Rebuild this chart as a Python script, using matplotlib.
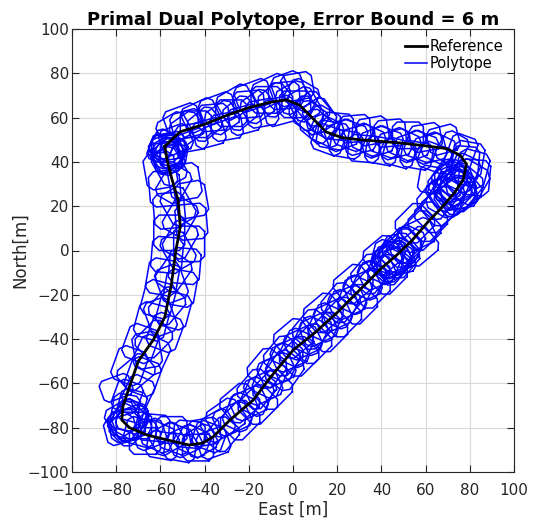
import numpy as np
import matplotlib
matplotlib.use('Agg')
import matplotlib.pyplot as plt

# Reference trajectory (East, North) in metres
ref_east = [-58, -56, -51, -40, -30, -20, -10, -3, 3, 8.6, 15, 22, 30, 38, 48, 58,
            69.5, 75.6, 78.5, 77, 73, 67, 62, 54, 47, 40, 30, 20, 10, 0, -10, -18,
            -28.5, -36, -41, -47, -57, -66, -74, -77.5, -77, -74, -70, -63, -58,
            -55, -53, -51, -52, -55, -57, -58]
ref_north = [47, 49, 53.6, 57, 61, 64.5, 67, 68, 65.6, 60, 53.5, 51, 50, 49.4, 48.6,
             47.5, 46, 43, 39, 32, 26, 19, 14, 4.7, -2, -8, -18, -28, -37, -45, -57,
             -67.5, -76.5, -84, -87, -87.8, -85.5, -83.3, -80, -76.5, -70.5, -61.5,
             -50, -40, -30, -15, 0, 10.7, 22.8, 33, 41, 47]

# Polytopes, grouped by stretch of track: centre, half length, half width, heading
top_cx = [-50, -46, -42, -38, -34, -30, -26, -22, -18, -14, -10, -6, -2, 1, -54, -48,
          4, 6, 9, 11, 14, 16,
          -48, -44, -40, -36, -32, -28, -24, -20, -16, -12, -8, -4, 0, 2,
          5, 8, 12, 15, 18]
top_cy = [59, 51, 61, 53, 64, 56, 67, 59, 70, 62, 72, 63, 73, 66, 55, 57,
          70, 62, 64, 56, 58, 50,
          55, 57, 57, 60, 60, 62, 62, 66, 65, 68, 68, 70, 69, 74,
          66, 60, 61, 54, 52]
top_a = [8, 7, 8, 7, 8, 7, 8, 7, 8, 7, 8, 7, 7, 7, 7, 7, 7, 7, 7, 7, 7, 7] + [7] * 19
top_b = [6, 6, 6, 6, 6, 6, 6, 6, 6, 6, 6, 6, 7, 6, 6, 6, 6, 6, 6, 6, 6, 6] + [6] * 19
top_deg = [20, 10, 25, 15, 20, 10, 30, 15, 20, 10, 25, 15, 20, 0, 30, 15,
           -30, -45, -50, -40, -30, -20,
           35, 0, 40, 5, 35, 0, 40, 5, 35, 0, 40, 5, 30, 10,
           -60, -35, -55, -25, -10]

ne_cx = [20, 24, 28, 32, 36, 40, 44, 48, 52, 56, 60, 64, 68,
         22, 26, 30, 34, 38, 42, 46, 50, 54, 58, 62, 66]
ne_cy = [56, 48, 55, 46, 54, 45, 53, 44, 52, 43, 51, 42, 50,
         52, 52, 50, 50, 49, 49, 48, 48, 47, 47, 46, 46]
ne_a = [7] * 25
ne_b = [6] * 25
ne_deg = [-5, -10, 5, -5, 10, -10, 5, -15, 0, -10, 10, -20, 15,
          20, -20, 15, -25, 20, -20, 15, -25, 20, -20, 15, -25]

east_cx = [72, 76, 79, 81, 82, 79, 76, 73, 71, 74, 70, 73, 69, 76, 67, 64, 61, 58, 62,
           74, 72, 75, 71, 77, 73, 78, 68, 65]
east_cy = [46, 44, 41, 37, 33, 31, 29, 28, 27, 25, 31, 32, 24, 27, 20, 17, 13, 9, 32,
           30, 29, 26, 33, 35, 24, 39, 27, 23]
east_a = [7, 8, 8, 8, 8, 9, 9, 8, 9, 8, 8, 7, 8, 8, 8, 8, 8, 8, 6,
          8, 8, 8, 7, 8, 8, 8, 7, 8]
east_b = [6, 6, 7, 7, 7, 8, 8, 8, 7, 7, 7, 8, 7, 8, 7, 7, 7, 7, 5,
          7, 7, 7, 7, 6, 7, 6, 6, 7]
east_deg = [60, 70, 80, 75, 85, 60, 50, 45, 30, 40, 50, 45, 60, 40, 40, 45, 45, 44, 80,
            20, 70, 10, 55, 65, 35, 85, 35, 50]

diag_cx = [55.2, 56.8, 49.3, 48.4, 40.7, 42.8, 35.1, 35.1, 27.2, 29.3, 21.6, 22.1, 13.7,
           15.8, 8.6, 8.6, 0.2, 2.8, -4.4, -3.9, -11.8, -9.2, -16.4, -15.9, -24.1,
           -23.9, -30.4, 45, 46, 44, 47, 43, 48, 45, 50,
           56, 52, 45, 41.5, 38, 34.5, 31.5, 28, 24.5, 21.5, 18, 14.5, 11.5, 8, 4.5,
           1.5, -1.5, -4.5, -7.5, -10.5, -13.5, -16.5, -20, -24, -27.5]
diag_cy = [12.3, 1.9, 1.4, -3.4, -2.2, -10.8, -10.6, -17.1, -15.2, -24.3, -23.6, -30.1,
           -28.2, -36.8, -35.6, -42.1, -39.7, -47.8, -47.6, -54.1, -53.2, -62.8, -62.6,
           -69.6, -68.9, -76.6, -75.6, -4, -2, -6, -5, -3, -1, -7, 2,
           7, 2.5, -3.5, -6.5, -10, -13.5, -16.5, -20, -23.5, -26.5, -29.5, -32.5,
           -35.5, -38.5, -41.5, -44, -47, -50.5, -54, -58, -62, -66, -69, -73, -76]
diag_a = [8] * 27 + [8, 8, 7, 8, 7, 8, 8, 7] + [8] * 25
diag_b = [7] * 27 + [7, 7, 7, 6, 7, 7, 6, 6] + [6] * 25
diag_deg = [45, 40, 45, 50, 40, 45, 50, 45, 40, 45, 50, 45, 40, 45, 50, 45, 40, 45,
            50, 55, 50, 45, 50, 45, 40, 45, 35, 30, 60, 45, 15, 75, 40, 50, 45,
            25, 65, 25, 65, 25, 65, 25, 65, 25, 65, 25, 65, 25, 65, 25, 65, 25, 65,
            25, 65, 25, 65, 25, 65, 25]

south_cx = [-34, -36, -40, -43, -47, -51, -55, -59, -63, -67,
            -73, -75, -76, -74, -77, -72, -75, -73, -76, -73, -75, -70, -80, -78,
            -32, -38, -42, -45, -49, -53, -57, -61, -65, -69]
south_cy = [-79, -87, -82, -89, -83, -89, -81, -88, -80, -86,
            -78, -77, -79, -76, -76, -79, -80, -75, -73, -70, -66, -64, -62, -81,
            -83, -84, -86, -86, -86, -85, -85, -84, -83, -82]
south_a = [7, 7, 7, 7, 7, 7, 7, 7, 7, 7,
           8, 8, 7, 8, 7, 8, 7, 7, 8, 7, 7, 7, 7, 7] + [7] * 10
south_b = [6, 6, 6, 6, 6, 6, 6, 6, 6, 6,
           7, 7, 7, 7, 7, 6, 7, 6, 6, 6, 6, 6, 5, 6] + [6] * 10
south_deg = [30, 20, 10, 0, -5, -10, 0, -10, -5, 0,
             20, 45, 10, 60, 30, 0, 45, 70, 80, 75, 70, 65, 20, 15,
             50, -20, 30, -25, 25, -20, 30, -25, 20, -15]

west_cx = [-68, -74, -64, -69, -58, -64, -54, -61, -51, -59, -49, -57, -47, -56, -46,
           -56, -46, -58, -49, -60,
           -57, -56, -57, -55, -58, -56, -54, -53, -60,
           -71, -66, -63, -60, -57, -55, -54, -52, -51, -51, -52, -54, -56,
           -58, -55, -59, -56]
west_cy = [-57, -52, -47, -42, -37, -32, -27, -22, -17, -12, -7, -2, 3, 8, 13,
           18, 23, 28, 31, 36,
           42, 44, 45, 46, 43, 47, 44, 50, 46,
           -55, -45, -40, -30, -25, -15, -10, 0, 5, 15, 20, 30, 38,
           46, 43, 48, 41]
west_a = [8] * 20 + [7, 6, 7, 6, 6, 7, 6, 7, 6] + [8] * 13 + [6, 6, 6, 6]
west_b = [7] * 20 + [6, 6, 7, 6, 7, 6, 6, 6, 5] + [6] * 13 + [6, 5, 5, 6]
west_deg = [70, 70, 65, 70, 70, 75, 75, 75, 80, 80, 85, 85, 90, 90, 95, 95, 100, 95,
            100, 100, 100, 45, 20, 60, 30, 10, 80, 20, 70,
            40, 100, 45, 110, 50, 110, 55, 120, 60, 60, 120, 60, 120,
            0, 90, 60, 120]

poly_cx = top_cx + ne_cx + east_cx + diag_cx + south_cx + west_cx
poly_cy = top_cy + ne_cy + east_cy + diag_cy + south_cy + west_cy
poly_a = top_a + ne_a + east_a + diag_a + south_a + west_a
poly_b = top_b + ne_b + east_b + diag_b + south_b + west_b
poly_deg = top_deg + ne_deg + east_deg + diag_deg + south_deg + west_deg


def polytope(cx, cy, a, b, deg, cut=0.35):
    # rectangle with chamfered corners, rotated about its centre
    c = cut * min(a, b)
    px = np.array([a - c, a, a, a - c, -a + c, -a, -a, -a + c, a - c])
    py = np.array([-b, -b + c, b - c, b, b, b - c, -b + c, -b, -b])
    t = np.deg2rad(deg)
    x = cx + px * np.cos(t) - py * np.sin(t)
    y = cy + px * np.sin(t) + py * np.cos(t)
    return x, y


fig = plt.figure(figsize=(5.34, 5.28), dpi=100)
ax = fig.add_axes([72 / 534, 1 - 472 / 528, 442 / 534, 443 / 528])

for i in range(len(poly_cx)):
    x, y = polytope(poly_cx[i], poly_cy[i], poly_a[i], poly_b[i], poly_deg[i])
    h_poly, = ax.plot(x, y, color=(0, 0, 1), lw=1.1)

h_ref, = ax.plot(ref_east, ref_north, color='k', lw=2, zorder=5)

ax.set_xlim(-100, 100)
ax.set_ylim(-100, 100)
ax.set_xticks(np.arange(-100, 101, 20))
ax.set_yticks(np.arange(-100, 101, 20))
ax.grid(True, color=(0.85, 0.85, 0.85), lw=0.8)
ax.set_axisbelow(True)
ax.tick_params(direction='in', top=True, right=True, length=5, width=0.8,
               labelsize=11, colors=(0.15, 0.15, 0.15))
ax.tick_params(axis='x', pad=8)
ax.tick_params(axis='y', pad=2)
for s in ax.spines.values():
    s.set_color((0.15, 0.15, 0.15))
    s.set_linewidth(0.8)

ax.set_xlabel('East [m]', fontsize=12, color=(0.15, 0.15, 0.15), labelpad=2)
ax.set_ylabel('North[m]', fontsize=12, color=(0.15, 0.15, 0.15), labelpad=-1)
ax.set_title('Primal Dual Polytope, Error Bound = 6 m', fontsize=13,
             fontweight='bold', pad=3)

leg = ax.legend([h_ref, h_poly], ['Reference', 'Polytope'], loc='upper right',
                frameon=False, fontsize=10.5, handlelength=1.5, handletextpad=0.2,
                borderaxespad=0.3, labelspacing=0.1)

fig.savefig('out.png', dpi=100)
